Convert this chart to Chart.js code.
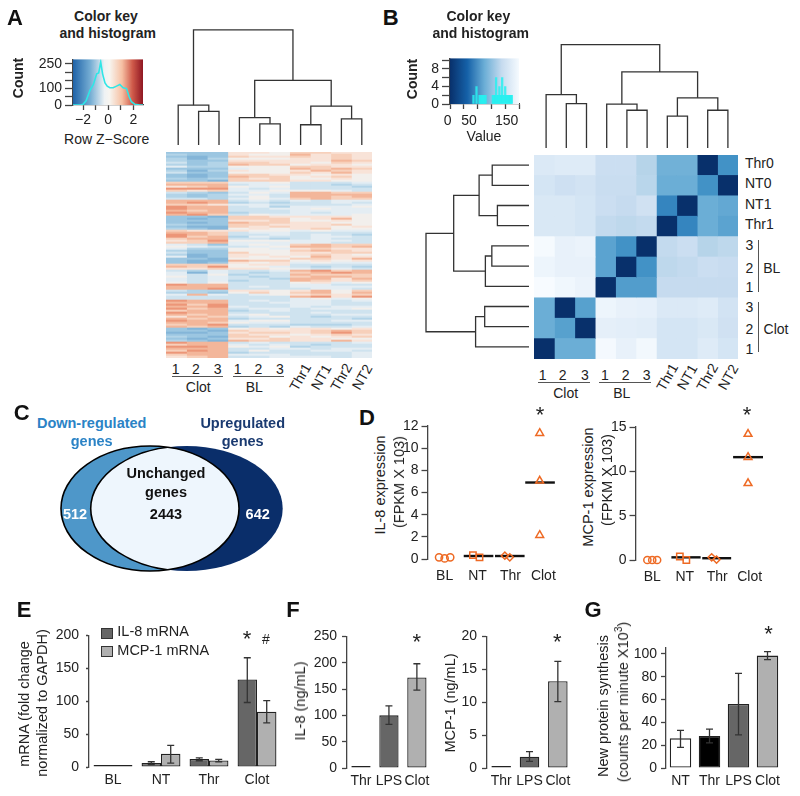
<!DOCTYPE html>
<html><head><meta charset="utf-8">
<style>
html,body{margin:0;padding:0;background:#fff}
#root{position:relative;width:800px;height:796px;overflow:hidden;font-family:"Liberation Sans",Arial,sans-serif;color:#222}
#root canvas{position:absolute}
.t{position:absolute;white-space:nowrap;transform-origin:center}
.b{position:absolute}
sup{font-size:70%;line-height:0}
</style>
<script src="https://cdn.jsdelivr.net/npm/chart.js@4/dist/chart.umd.min.js"></script>
</head><body><div id="root"></div>
<script>
// ---------- DATA ----------
const zHistX=[-2.8,-2.2,-2,-1.76,-1.45,-1.18,-0.92,-0.76,-0.6,-0.45,-0.26,-0.08,0.13,0.39,0.66,0.92,1.18,1.45,1.66,1.84,2.1,2.5,2.76];
const zHistY=[0,0,4,25,90,125,190,195,262,190,135,115,105,105,115,125,105,100,50,20,5,0,0];
const valHistX=[60,71,82,85,88,91,94,97,100,104,130,133,136,139,142,145,148,151,154,157,160,164,167,170,175,178,181,184,187,190,193,196,199];
const valHistY=[2,4,2,2,2,2,2,2,2,2,2,2,2,2,6,2,2,2,4,2,2,6,2,2,4,2,2,2,2,2,2,2,2];
const treeAtop=[117.7,[40.7,0,[34.4,1,2]],[66,[28,3,[21.7,4,5]],[39.7,[20.7,6,7],[26.7,8,9]]]];
const treeBtop=[106,[54.7,0,[45.4,1,2]],[78,[45,3,[38.7,4,5]],[51.4,[32.7,6,7],[38.7,8,9]]]];
const treeBside=[105.3,[77,[51,[37.6,0,1],[32.3,2,3]],[44.6,[38,4,5],6]],[54.6,[45.3,7,8],9]];
const heatA=["1116657766","2116558676","1017667676","2025556676","2116666687","3127766576","2128775665","4225557766",
"1114558787","2026556876","3115557686","1017766565","1018775675","2127675565","1107776655","7774453334","8883443323",
"6785453332","9994343333","7674455543","3213548877","2124438888","2123538878","3324547877","8883434344","8982323343",
"7764433334","9883424445","9883344544","8783334444","9882334344","8973544445","1107766665","1017775685","1116675565",
"1018776655","2117766675","1007676656","2105656755","7666554544","8873443333","9873343432","9782433443","7883323433",
"6795554443","7784444433","4314547877","5433458878","4225546766","2115557876","3117556677","2016656765","4016565866",
"1105557768","1008775656","1016564544","7775663333","8795543232","6676654343","3243348978","4043237898","4352338777",
"5343237887","4343328868","4342338767","5353335645","9883334433","8883434444","8893333443","3226656857","2215757858",
"4843456767","3333338969","3333334545","9883434434","8883344433","9793334433","8894334344","9783443445","7882343333",
"9883333433","8784533344","6873453233","8782333332","9884553344","8875443333","7893332223","8782324334","1015656656",
"1107666787","0016776797","1117665676","2107756567","1016676655","2108776686","9883433334","7884343233","9985452333",
"8883344344","7983533443","9882333334","7884443334","6783344434"];
const heatALabels=heatA.map((_,i)=>"gene"+(i+1));
const heatAColors=["#84b5d8","#9cc6e1","#b3d4e8","#cfe3ef","#e4edf3","#f2efec","#f8e3d8","#f7d0bb","#f3b69a","#ec9678"];
const heatBRows=["Thr0","NT0","NT1","Thr1","BL3","BL2","BL1","Clot3","Clot2","Clot1"];
const heatB=[[172,175,175,155,155,140,103,103,0,75],
[165,158,163,153,153,142,100,100,75,0],
[170,170,165,155,150,160,65,0,100,95],
[170,170,165,148,145,148,0,65,100,90],
[198,185,188,90,75,0,148,155,140,145],
[190,185,185,90,0,75,145,148,155,152],
[200,193,188,0,85,85,150,150,150,150],
[100,0,88,190,185,183,172,172,175,163],
[100,88,0,182,180,178,165,165,170,160],
[0,100,100,197,185,195,165,165,175,165]];
const blues=["#08306b","#08519c","#2171b5","#4292c6","#6baed6","#9ecae1","#c6dbef","#deebf7","#f7fbff"];
const colLabelsGroup=["1","2","3","1","2","3"];
const colLabelsRot=["Thr1","NT1","Thr2","NT2"];
const rightLabelsB=["Thr0","NT0","NT1","Thr1"];
const dCats=["BL","NT","Thr","Clot"];
const il8Pts={BL:[[-0.17,.15],[0,.05],[.17,.15]],NT:[[-.14,.35],[.06,.15]],Thr:[[-.17,.3],[-.02,.15]],Clot:[[-.11,11.35],[-.11,7.05],[-.11,2.15]]};
const il8Means=[[1-.42,1+.48,.27],[2-.47,2+.43,.27],[3-.55,3+.35,6.9]];
const mcpPts={BL:[[-.15,0],[0,0],[.15,0]],NT:[[-.15,.4],[.05,0]],Thr:[[-.17,.3],[-.02,.05]],Clot:[[-.05,14.2],[-.05,11.6],[-.05,8.65]]};
const mcpMeans=[[1-.41,1+.49,.3],[2-.46,2+.43,.2],[3-.51,3+.41,11.6]];
const eCats=["BL","NT","Thr","Clot"];
const eIL8=[.5,6,12,133], eMCP=[.5,20,10,84];
const eIL8Err=[[.5,.5],[3.5,8],[9.5,14],[98,166]], eMCPErr=[[.5,.5],[6,33],[8,11.5],[67,101]];
const fCats=["Thr","LPS","Clot"];
const fIL8=[.3,100,172], fIL8Err=[[.3,.3],[83,118],[148,198]];
const fMCP=[.05,1.7,13.2], fMCPErr=[[.05,.05],[1,2.5],[10.1,16.2]];
const gCats=["NT","Thr","LPS","Clot"];
const gVals=[26,28,56,98.5], gErr=[[18,33],[22,34],[29,83],[95,102]];
const vennCounts={down:"512",both:"2443",up:"642"};
const keyBTicks=[[0,447.7],[50,469],[150,506.7]];
// ---------- HELPERS ----------
const INK="#222",AX="#444",ORANGE="#ee6a24",DARK="#666666",LIGHT="#b0b0b0";
Chart.defaults.font.family='"Liberation Sans",Arial,sans-serif';
Chart.defaults.font.size=14;
Chart.defaults.color=INK;
Chart.defaults.animation=false;
Chart.defaults.responsive=false;
Chart.defaults.plugins.legend.display=false;
Chart.defaults.plugins.tooltip.enabled=false;
const root=document.getElementById('root');
function panel(p,cfg,padL=0,padB=0,padT=2,padR=2){
  const c=document.createElement('canvas');
  c.width=p.r-p.l+padL+padR; c.height=p.b-p.t+padT+padB;
  c.style.left=(p.l-padL)+'px'; c.style.top=(p.t-padT)+'px';
  root.appendChild(c);
  cfg.options=cfg.options||{};
  cfg.options.devicePixelRatio=1;
  cfg.options.layout={padding:{top:padT,right:padR,left:padL?0:padR,bottom:padB?0:padR}};
  const s=cfg.options.scales||{};
  if(s.y&&s.y.display!==false){s.y.afterFit=a=>{a.width=padL}}
  if(s.x&&s.x.display!==false){s.x.afterFit=a=>{a.height=padB}}
  return new Chart(c,cfg);
}
function txt(x,y,s,o={}){
  const d=document.createElement('div');d.className='t';
  d.innerHTML=s;
  d.style.left=x+'px';d.style.top=y+'px';
  d.style.fontSize=(o.size||14)+'px';
  if(o.bold)d.style.fontWeight='bold';
  d.style.color=o.color||INK;
  d.style.transform=`translate(${o.align==='left'?'0':'-50%'},-50%) rotate(${o.rot||0}deg)`;
  root.appendChild(d);
}
function rule(x,y,w,h,color='#555'){
  const d=document.createElement('div');d.className='b';
  d.style.cssText+=`left:${x}px;top:${y}px;width:${w}px;height:${h}px;background:${color}`;
  root.appendChild(d);
}
function hideScale(min,max,rev){return {type:'linear',display:false,min,max,reverse:!!rev}}
function treeSets(tree,horizontal){
  const out=[];
  (function walk(n){
    if(typeof n==='number')return {p:n,h:0};
    const a=walk(n[1]),b=walk(n[2]);
    const path=[[a.p,a.h],[a.p,n[0]],[b.p,n[0]],[b.p,b.h]];
    out.push({type:'scatter',showLine:true,borderColor:'#333',borderWidth:1.3,pointRadius:0,tension:0,clip:false,
      data:path.map(q=>horizontal?{x:q[1],y:q[0]}:{x:q[0],y:q[1]})});
    return {p:(a.p+b.p)/2,h:n[0]};
  })(tree);
  return out;
}
const errPlugin={id:'err',afterDatasetsDraw(ch){
  const c=ch.ctx;
  ch.data.datasets.forEach((ds,i)=>{
    if(!ds.err)return;
    const m=ch.getDatasetMeta(i);
    ds.err.forEach((e,j)=>{
      if(e[0]===e[1])return;
      const x=m.data[j].x,y0=ch.scales.y.getPixelForValue(e[0]),y1=ch.scales.y.getPixelForValue(e[1]);
      c.save();c.strokeStyle='#333';c.lineWidth=1.3;c.beginPath();
      c.moveTo(x,y0);c.lineTo(x,y1);c.moveTo(x-3.5,y0);c.lineTo(x+3.5,y0);c.moveTo(x-3.5,y1);c.lineTo(x+3.5,y1);c.stroke();c.restore();
    });
  });
}};
function gradPlugin(stops){return {id:'grad',beforeDatasetsDraw(ch){
  const a=ch.chartArea,c=ch.ctx,g=c.createLinearGradient(a.left,0,a.right,0);
  stops.forEach(s=>g.addColorStop(s[0],s[1]));
  c.save();c.fillStyle=g;c.fillRect(a.left,a.top,a.right-a.left,a.bottom-a.top);c.restore();
}}}
function yAxis(min,max,step,tickLen,pad,cb){return {type:'linear',min,max,
  border:{display:true,color:AX,width:1.3},
  grid:{drawOnChartArea:false,drawTicks:true,tickLength:tickLen,tickColor:AX,tickWidth:1.3},
  ticks:{stepSize:step,padding:pad,autoSkip:false,includeBounds:false,maxRotation:0,callback:cb||(v=>v),color:INK}}}
function bars(p,cats,sets,ymax,step,tl,pad,cat,padL){
  return panel(p,{type:'bar',data:{labels:cats,datasets:sets.map(s=>({...s,borderColor:'#222',borderWidth:1.3,borderSkipped:false,barPercentage:1,categoryPercentage:cat,minBarLength:2,clip:false}))},
    options:{scales:{x:{border:{display:false},grid:{display:false,drawTicks:false,tickLength:0},ticks:{padding:5,maxRotation:0,autoRotate:false,autoSkip:false,color:INK}},
      y:yAxis(0,ymax,step,tl,pad)}}, plugins:[errPlugin]},padL,24,10,4);
}
function heat(p,rows,cols,color){
  const ds=[];
  for(let j=0;j<cols;j++)ds.push({data:rows.map(()=>1),backgroundColor:ctx=>color(ctx.dataIndex,j),borderWidth:0,barPercentage:1,categoryPercentage:1,stack:'s'});
  return panel(p,{type:'bar',data:{labels:rows,datasets:ds},options:{indexAxis:'y',
    scales:{x:{display:false,stacked:true,min:0,max:cols},y:{display:false,stacked:true}}}},0,0,0,0);
}
function lerpBlues(v){
  const f=Math.max(0,Math.min(1,v/200))*(blues.length-1),i=Math.min(blues.length-2,Math.floor(f)),t=f-i;
  const h=s=>[1,3,5].map(k=>parseInt(s.substr(k,2),16));
  const a=h(blues[i]),b=h(blues[i+1]);
  return `rgb(${a.map((q,k)=>Math.round(q+(b[k]-q)*t)).join(',')})`;
}
function dots(pts,center,style){return {type:'scatter',pointStyle:style,pointRadius:style==='rect'?4.5:(style==='triangle'?4.5:3.6),
  pointBorderColor:ORANGE,pointBackgroundColor:'rgba(0,0,0,0)',pointBorderWidth:1.5,showLine:false,clip:false,
  data:pts.map(q=>({x:center+q[0],y:q[1]}))}}
function scatterD(p,pts,means,ymax,step,padL,xmin,xmax){
  const sets=[dots(pts.BL,0,'circle'),dots(pts.NT,1,'rect'),dots(pts.Thr,2,'rectRot'),dots(pts.Clot,3,'triangle')];
  means.forEach(m=>sets.push({type:'scatter',showLine:true,borderColor:'#111',borderWidth:2.4,pointRadius:0,clip:false,data:[{x:m[0],y:m[2]},{x:m[1],y:m[2]}]}));
  panel(p,{type:'scatter',data:{datasets:sets},options:{scales:{
    x:{type:'linear',min:xmin,max:xmax,border:{display:false},grid:{display:false,drawTicks:false,tickLength:0},
      afterBuildTicks:a=>{a.ticks=dCats.map((_,i)=>({value:i}))},
      ticks:{padding:9,maxRotation:0,autoRotate:false,autoSkip:false,callback:v=>dCats[v],color:INK}},
    y:yAxis(0,ymax,step,6.5,3)}}},padL,26,12,24);
}
// ---------- PANEL A ----------
const keyAstops=[[0,'#1f63a8'],[.25,'#76aed4'],[.45,'#eef2f4'],[.52,'#f7f5f0'],[.7,'#f6c0a3'],[.85,'#cf5a4a'],[1,'#8f1622']];
panel({l:73.3,t:54,r:144,b:105.7},{type:'scatter',data:{datasets:[{showLine:true,borderColor:'#2fe6e6',borderWidth:1.6,pointRadius:0,tension:0,
  data:zHistX.map((x,i)=>({x,y:zHistY[i]}))}]},
  options:{scales:{x:{type:'linear',min:-2.8,max:2.76,border:{display:true,color:AX,width:1.3},
     grid:{drawOnChartArea:false,tickLength:5,tickColor:AX,tickWidth:1.3},
     ticks:{stepSize:1,includeBounds:false,padding:2,maxRotation:0,autoSkip:false,callback:v=>v%2===0?String(v).replace('-','\u2212'):'',color:INK}},
   y:yAxis(0,278,50,8,3,v=>[0,100,250].includes(v)?v:'')}},plugins:[gradPlugin(keyAstops)]},50,26,6,2);
txt(106,15.7,'Color key',{bold:true});txt(107.7,33,'and histogram',{bold:true});
txt(18,78,'Count',{bold:true,rot:-90});txt(106.7,139,'Row Z\u2212Score');
panel({l:165.7,t:25,r:371.7,b:147.7},{type:'scatter',data:{datasets:treeSets(treeAtop,false)},options:{scales:{x:hideScale(-.5,9.5),y:hideScale(0,122.7)}}},0,0,2,2);
heat({l:166,t:152,r:372,b:358},heatALabels,10,(i,j)=>heatAColors[+heatA[i][j]]);
[175.7,196,217.7,237.7,258.3,280].forEach((x,i)=>txt(x,369,colLabelsGroup[i]));
rule(171.7,375.5,51.6,1);rule(232.7,375.5,51.6,1);
txt(198.3,386.7,'Clot');txt(254.3,386.7,'BL');
[300,320.7,340.7,361.7].forEach((x,i)=>txt(x,376.7,colLabelsRot[i],{rot:-60}));
txt(15,18,'A',{bold:true,size:22,color:'#111'});txt(390.7,18,'B',{bold:true,size:22,color:'#111'});
// ---------- PANEL B ----------
const keyBstops=[[0,'#08306b'],[.25,'#1561a8'],[.5,'#6baed6'],[.75,'#c6dbef'],[1,'#f5fafe']];
panel({l:450,t:52.7,r:519.3,b:104},{type:'bar',data:{datasets:[{backgroundColor:'rgba(40,240,240,.85)',barThickness:1.6,
  data:valHistX.map((x,i)=>({x,y:valHistY[i]}))}]},
  options:{scales:{x:{type:'linear',min:0,max:200,border:{display:true,color:AX,width:1.3},
     grid:{drawOnChartArea:false,tickLength:5,tickColor:AX,tickWidth:1.3},
     ticks:{stepSize:50,padding:2,maxRotation:0,autoSkip:false,callback:()=>'',color:INK}},
   y:yAxis(0,10.4,2,8,3,v=>[0,4,8].includes(v)?v:'')}},plugins:[gradPlugin(keyBstops)]},40,26,6,2);
keyBTicks.forEach(q=>txt(q[1],120,String(q[0])));
txt(478.3,15.7,'Color key',{bold:true});txt(480.7,33,'and histogram',{bold:true});
txt(412,79,'Count',{bold:true,rot:-90});txt(484,135.7,'Value');
panel({l:533.7,t:40,r:738,b:150.7},{type:'scatter',data:{datasets:treeSets(treeBtop,false)},options:{scales:{x:hideScale(-.5,9.5),y:hideScale(0,110.7)}}},0,0,2,2);
panel({l:424,t:155,r:529.3,b:359},{type:'scatter',data:{datasets:treeSets(treeBside,true)},options:{scales:{x:hideScale(0,105.3,true),y:hideScale(-.5,9.5,true)}}},0,0,2,2);
heat({l:534,t:155,r:738,b:359},heatBRows,10,(i,j)=>lerpBlues(heatB[i][j]));
[542.7,562.7,585,605,625.7,646.7].forEach((x,i)=>txt(x,374.7,colLabelsGroup[i]));
rule(538.3,382,51.7,1);rule(599.3,382,51.7,1);
txt(565.7,392.7,'Clot');txt(621.7,392.7,'BL');
[666.7,686.7,707.3,728.3].forEach((x,i)=>txt(x,376.7,colLabelsRot[i],{rot:-60}));
[162.7,183.3,204,224].forEach((y,i)=>txt(745,y,rightLabelsB[i],{align:'left'}));
[[245,'3'],[268,'2'],[287.3,'1'],[307.3,'3'],[329,'2'],[349.3,'1']].forEach(q=>txt(749.3,q[0],q[1]));
rule(758,240,1,51.7);rule(758,301.7,1,50);
txt(771.7,267.7,'BL');txt(776,328.7,'Clot');
// ---------- PANEL C ----------
const vennLeft=[150,506.5,89,62.5], vennRight=[186.7,506.5,96,62.5];
const vennPlugin={id:'venn',afterDatasetsDraw(ch){
  const c=ch.ctx,X=ch.scales.x,Y=ch.scales.y;
  const path=e=>{c.beginPath();c.ellipse(X.getPixelForValue(e[0]),Y.getPixelForValue(e[1]),X.getPixelForValue(e[0]+e[2])-X.getPixelForValue(e[0]),Math.abs(Y.getPixelForValue(e[1]+e[3])-Y.getPixelForValue(e[1])),0,0,Math.PI*2)};
  c.save();
  path(vennRight);c.fillStyle='#0a2e6a';c.fill();
  path(vennLeft);c.fillStyle='#4e97c9';c.fill();
  c.save();path(vennLeft);c.clip();path(vennRight);c.fillStyle='#eef6fd';c.fill();c.lineWidth=1.6;c.strokeStyle='#000';c.stroke();c.restore();
  path(vennLeft);c.lineWidth=1.6;c.strokeStyle='#000';c.stroke();
  c.restore();
}};
panel({l:50,t:435,r:295,b:580},{type:'scatter',data:{datasets:[{data:[]}]},options:{scales:{x:hideScale(50,295),y:hideScale(580,435)}},plugins:[vennPlugin]},0,0,0,0);
txt(21.7,413,'C',{bold:true,size:22,color:'#111'});
txt(91.7,422.7,'Down-regulated',{bold:true,color:'#2b83c6',size:14.5});txt(91.7,440.7,'genes',{bold:true,color:'#2b83c6',size:14.5});
txt(242.7,422.7,'Upregulated',{bold:true,color:'#1a3a70',size:14.5});txt(242.7,440.7,'genes',{bold:true,color:'#1a3a70',size:14.5});
txt(166,473.3,'Unchanged',{bold:true,color:'#111',size:14.5});txt(166,491.7,'genes',{bold:true,color:'#111',size:14.5});
txt(166,514,vennCounts.both,{bold:true,color:'#111',size:14.5});
txt(75,514,vennCounts.down,{bold:true,color:'#fff',size:14.5});txt(257.7,514,vennCounts.up,{bold:true,color:'#fff',size:14.5});
// ---------- PANEL D ----------
scatterD({l:428.3,t:426,r:556.7,b:559.3},il8Pts,il8Means,12,2,40,-.506,3.385);
scatterD({l:636,t:426.7,r:762.7,b:560},mcpPts,mcpMeans,15,5,40,-.5,3.38);
txt(367,418,'D',{bold:true,size:22,color:'#111'});
txt(380,485,'IL-8 expression',{rot:-90,size:14.5});txt(399.3,481.7,'(FPKM X 103)',{rot:-90,size:14.5});
txt(588.3,486.7,'MCP-1 expression',{rot:-90,size:14.5});txt(607.3,480,'(FPKM X 103)',{rot:-90,size:14.5});
txt(540,415,'*',{size:22});txt(747,415,'*',{size:22});
// ---------- PANEL E ----------
bars({l:88.7,t:630,r:280.7,b:767.3},eCats,[{label:'IL-8 mRNA',data:eIL8,backgroundColor:DARK,err:eIL8Err},{label:'MCP-1 mRNA',data:eMCP,backgroundColor:LIGHT,err:eMCPErr}],200,50,3,7,.81,45);
txt(24,610,'E',{bold:true,size:22,color:'#111'});
txt(24,704,'mRNA (fold change',{rot:-90,size:14.5});txt(41.7,703,'normalized to GAPDH)',{rot:-90,size:14.5});
[['IL-8 mRNA',628.3,DARK,631],['MCP-1 mRNA',646,LIGHT,650]].forEach(l=>{
  const d=document.createElement('div');d.className='b';
  d.style.cssText+=`left:101px;top:${l[1]}px;width:10px;height:9px;background:${l[2]};border:1px solid #333`;root.appendChild(d);
  txt(117.3,l[3],l[0],{align:'left',size:14.5});
});
txt(247,639,'*',{size:22});txt(266,639,'#',{size:14});
// ---------- PANEL F ----------
bars({l:347,t:632.7,r:431.7,b:768.3},fCats,[{data:fIL8,backgroundColor:[DARK,DARK,LIGHT],err:fIL8Err}],250,50,5,5,.69,48);
bars({l:486.7,t:632.7,r:571.7,b:767.7},fCats,[{data:fMCP,backgroundColor:[DARK,DARK,LIGHT],err:fMCPErr}],20,5,5,5,.69,36);
txt(293,610,'F',{bold:true,size:22,color:'#111'});
txt(300,701,'IL-8 (ng/mL)',{rot:-90,size:14.5});txt(450,703,'MCP-1 (ng/mL)',{rot:-90,size:14.5});
txt(416.7,642,'*',{size:22});txt(557.3,642,'*',{size:22});
// ---------- PANEL G ----------
bars({l:666,t:645,r:782,b:768},gCats,[{data:gVals,backgroundColor:['#ffffff','#000000',DARK,LIGHT],err:gErr}],105.7,20,5,4,.74,45);
txt(593,610,'G',{bold:true,size:22,color:'#111'});
txt(603.3,705.8,'New protein synthesis',{rot:-90,size:14.5});txt(623.3,701.7,'(counts per minute X10<sup>3</sup>)',{rot:-90,size:14.5});
txt(768.5,634,'*',{size:22});
</script></body></html>
